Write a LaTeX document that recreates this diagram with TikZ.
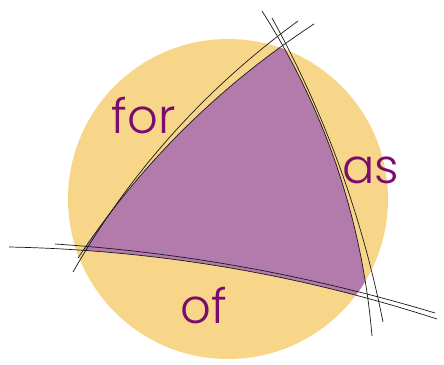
\documentclass[tikz,border=0pt]{standalone}
\usepackage{fontspec}
\setmainfont{Poppins}[UprightFont=* Light]
\definecolor{ring}{RGB}{247,214,138}
\definecolor{tri}{RGB}{178,123,172}
\definecolor{word}{RGB}{122,12,112}
\begin{document}
\begin{tikzpicture}[x=1pt,y=-1pt,
  arc/.style={line width=0.7pt, black!90},
  lbl/.style={text=word, font=\fontsize{48}{48}\selectfont, inner sep=0pt, anchor=base}]
\useasboundingbox (0,0) rectangle (444,364);
\coordinate (cc) at (228,199);
\coordinate (fa1) at (73,272);  \coordinate (fa2) at (298,21);
\coordinate (fb1) at (78,258);  \coordinate (fb2) at (314,24);
\coordinate (aa1) at (262,11);  \coordinate (aa2) at (372,336);
\coordinate (ab1) at (272,18);  \coordinate (ab2) at (383,322);
\coordinate (oa1) at (9,247);   \coordinate (oa2) at (437,319);
\coordinate (ob1) at (55,244);  \coordinate (ob2) at (435,313);
% yellow disc
\fill[ring] (cc) circle[radius=160pt];
% purple curved triangle
\begin{scope}
  \clip (cc) circle[radius=160pt];
  \clip (fb1) .. controls (140.7,163.9) and (219.3,85.9) .. (fb2) -- (500,24) -- (500,400) -- (78,400) -- cycle;
  \clip (aa1) .. controls (325.2,110.3) and (361.9,218.7) .. (aa2) -- (372,400) -- (-50,400) -- (-50,11) -- cycle;
  \clip (oa1) .. controls (155.2,249.9) and (297.9,273.9) .. (oa2) -- (500,319) -- (500,-50) -- (-50,-50) -- (-50,247) -- cycle;
  \fill[tri] (0,0) rectangle (444,364);
\end{scope}
% arcs
\draw[arc] (fa1) .. controls (130.1,172.3) and (205.1,88.7) .. (fa2);
\draw[arc] (fb1) .. controls (140.7,163.9) and (219.3,85.9) .. (fb2);
\draw[arc] (aa1) .. controls (325.2,110.3) and (361.9,218.7) .. (aa2);
\draw[arc] (ab1) .. controls (324.7,113.6) and (361.7,214.9) .. (ab2);
\draw[arc] (oa1) .. controls (155.2,249.9) and (297.9,273.9) .. (oa2);
\draw[arc] (ob1) .. controls (184.3,252.6) and (310.9,275.6) .. (ob2);
% labels
\node[lbl] (tfor) at (143.5,133) {for};
\node[lbl] (tas) at (370.5,183) {as};
\node[lbl] (tof) at (204,323) {of};
\end{tikzpicture}
\end{document}
